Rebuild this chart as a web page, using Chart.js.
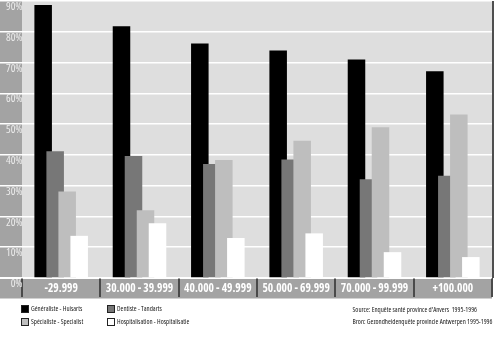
<!DOCTYPE html>
<html>
<head>
<meta charset="utf-8">
<script src="https://cdn.jsdelivr.net/npm/chart.js@4/dist/chart.umd.min.js"></script>
<style>
  html, body { margin: 0; padding: 0; background: #fff; }
  #wrap { width: 497px; height: 337px; }
</style>
</head>
<body>
<div id="wrap"><canvas id="chart" width="497" height="337"></canvas></div>
<script>
// income classes (BEF / year)
var categories = ['-29.999', '30.000 - 39.999', '40.000 - 49.999', '50.000 - 69.999', '70.000 - 99.999', '+100.000'];
var seriesNames = ['Généraliste - Huisarts', 'Dentiste - Tandarts', 'Spécialiste - Specialist', 'Hospitalisation - Hospitalisatie'];
var generalist = [88.7, 81.8, 76.2, 73.9, 71.0, 67.2];
var dentist = [41.2, 39.6, 37.0, 38.5, 32.1, 33.2];
var specialist = [28.1, 22.0, 38.3, 44.6, 49.0, 53.1];
var hospital = [13.7, 17.8, 13.0, 14.5, 8.4, 6.8];
var yMax = 90;
var yStep = 10;
var sourceLines = ["Source: Enquête santé province d'Anvers  1995-1996", 'Bron: Gezondheidenquête provincie Antwerpen 1995-1996'];

// Open Sans is variable here, so "condensed" gives a narrow face
var FAMILY = "'Open Sans', 'Liberation Sans', sans-serif";
var STRIP = '#a3a3a3';
var PLOT_BG = '#dedede';

// backgrounds, left strip, bottom band, right edge line
var framePlugin = {
  id: 'frame',
  beforeDraw: function(chart) {
    var ctx = chart.ctx, a = chart.chartArea;
    ctx.save();
    ctx.fillStyle = STRIP;
    ctx.fillRect(0, 0, a.left, a.bottom);
    ctx.fillRect(0, a.bottom + 1, a.right, 19.5);
    ctx.fillStyle = PLOT_BG;
    ctx.fillRect(a.left, a.top, a.right - a.left, a.bottom - a.top);
    ctx.restore();
  },
  afterDraw: function(chart) {
    var ctx = chart.ctx, a = chart.chartArea;
    ctx.save();
    ctx.fillStyle = '#4f4f4f';
    ctx.fillRect(a.right, a.top, 2, a.bottom - a.top);
    ctx.restore();
  }
};

// draw datasets left to right so later bars overlap earlier ones
var overlapPlugin = {
  id: 'overlap',
  beforeDatasetsDraw: function(chart) {
    var metas = chart.getSortedVisibleDatasetMetas();
    metas.forEach(function(m) { m.controller.draw(); });
    return false;
  }
};

// 2x2 legend and source notes under the axis band
var notesPlugin = {
  id: 'notes',
  afterDraw: function(chart) {
    var ctx = chart.ctx;
    ctx.save();
    ctx.font = 'condensed 7.5px ' + FAMILY;
    ctx.textBaseline = 'middle';
    var sx = 140 / ctx.measureText(sourceLines[1]).width;
    var cols = [21, 107], rows = [305, 318];
    chart.data.datasets.forEach(function(ds, i) {
      var x = cols[i % 2], y = rows[Math.floor(i / 2)];
      ctx.fillStyle = ds.backgroundColor;
      ctx.fillRect(x, y, 8, 8);
      ctx.strokeStyle = '#222';
      ctx.lineWidth = 1;
      ctx.strokeRect(x + 0.5, y + 0.5, 7, 7);
      ctx.save();
      ctx.translate(x + 10, y + 4);
      ctx.scale(sx, 1);
      ctx.fillStyle = '#1a1a1a';
      ctx.fillText(ds.label, 0, 0);
      ctx.restore();
    });
    [310, 321.5].forEach(function(y, i) {
      ctx.save();
      ctx.translate(352.5, y);
      ctx.scale(sx, 1);
      ctx.fillStyle = '#1a1a1a';
      ctx.fillText(sourceLines[i], 0, 0);
      ctx.restore();
    });
    ctx.restore();
  }
};

function mkSet(i, data, color) {
  return {
    label: seriesNames[i],
    data: data,
    backgroundColor: color,
    borderWidth: 0,
    categoryPercentage: 0.613,
    barPercentage: 1.46
  };
}

new Chart(document.getElementById('chart'), {
  type: 'bar',
  data: {
    labels: categories,
    datasets: [
      mkSet(0, generalist, '#000000'),
      mkSet(1, dentist, '#777777'),
      mkSet(2, specialist, '#bebebe'),
      mkSet(3, hospital, '#ffffff')
    ]
  },
  options: {
    responsive: false,
    animation: false,
    devicePixelRatio: 1,
    layout: { padding: { top: 1, right: 5, bottom: 39, left: 0 } },
    plugins: {
      legend: { display: false },
      tooltip: { enabled: false }
    },
    scales: {
      x: {
        border: { display: false },
        grid: {
          offset: true,
          drawOnChartArea: false,
          drawTicks: true,
          tickLength: 19,
          tickColor: '#4a4a4a',
          lineWidth: 2
        },
        ticks: {
          autoSkip: false,
          maxRotation: 0,
          padding: -15,
          color: '#ffffff',
          font: { family: FAMILY, size: 11.5, weight: 'condensed bold' }
        },
        afterFit: function(s) {
          s.height = 20;
          s.paddingLeft = 0;
          s.paddingRight = 0;
        }
      },
      y: {
        min: 0,
        max: yMax,
        border: { display: false },
        grid: {
          color: '#ffffff',
          tickColor: '#ffffff',
          lineWidth: 1.5,
          drawTicks: true,
          tickLength: 22
        },
        ticks: {
          stepSize: yStep,
          padding: -22.5,
          labelOffset: 6,
          color: '#ececec',
          font: { family: FAMILY, size: 11, weight: 'condensed' },
          callback: function(v) { return v + '%'; }
        },
        afterFit: function(s) {
          s.width = 22;
          s.paddingTop = 0;
          s.paddingBottom = 0;
        }
      }
    }
  },
  plugins: [framePlugin, overlapPlugin, notesPlugin]
});
</script>
</body>
</html>
